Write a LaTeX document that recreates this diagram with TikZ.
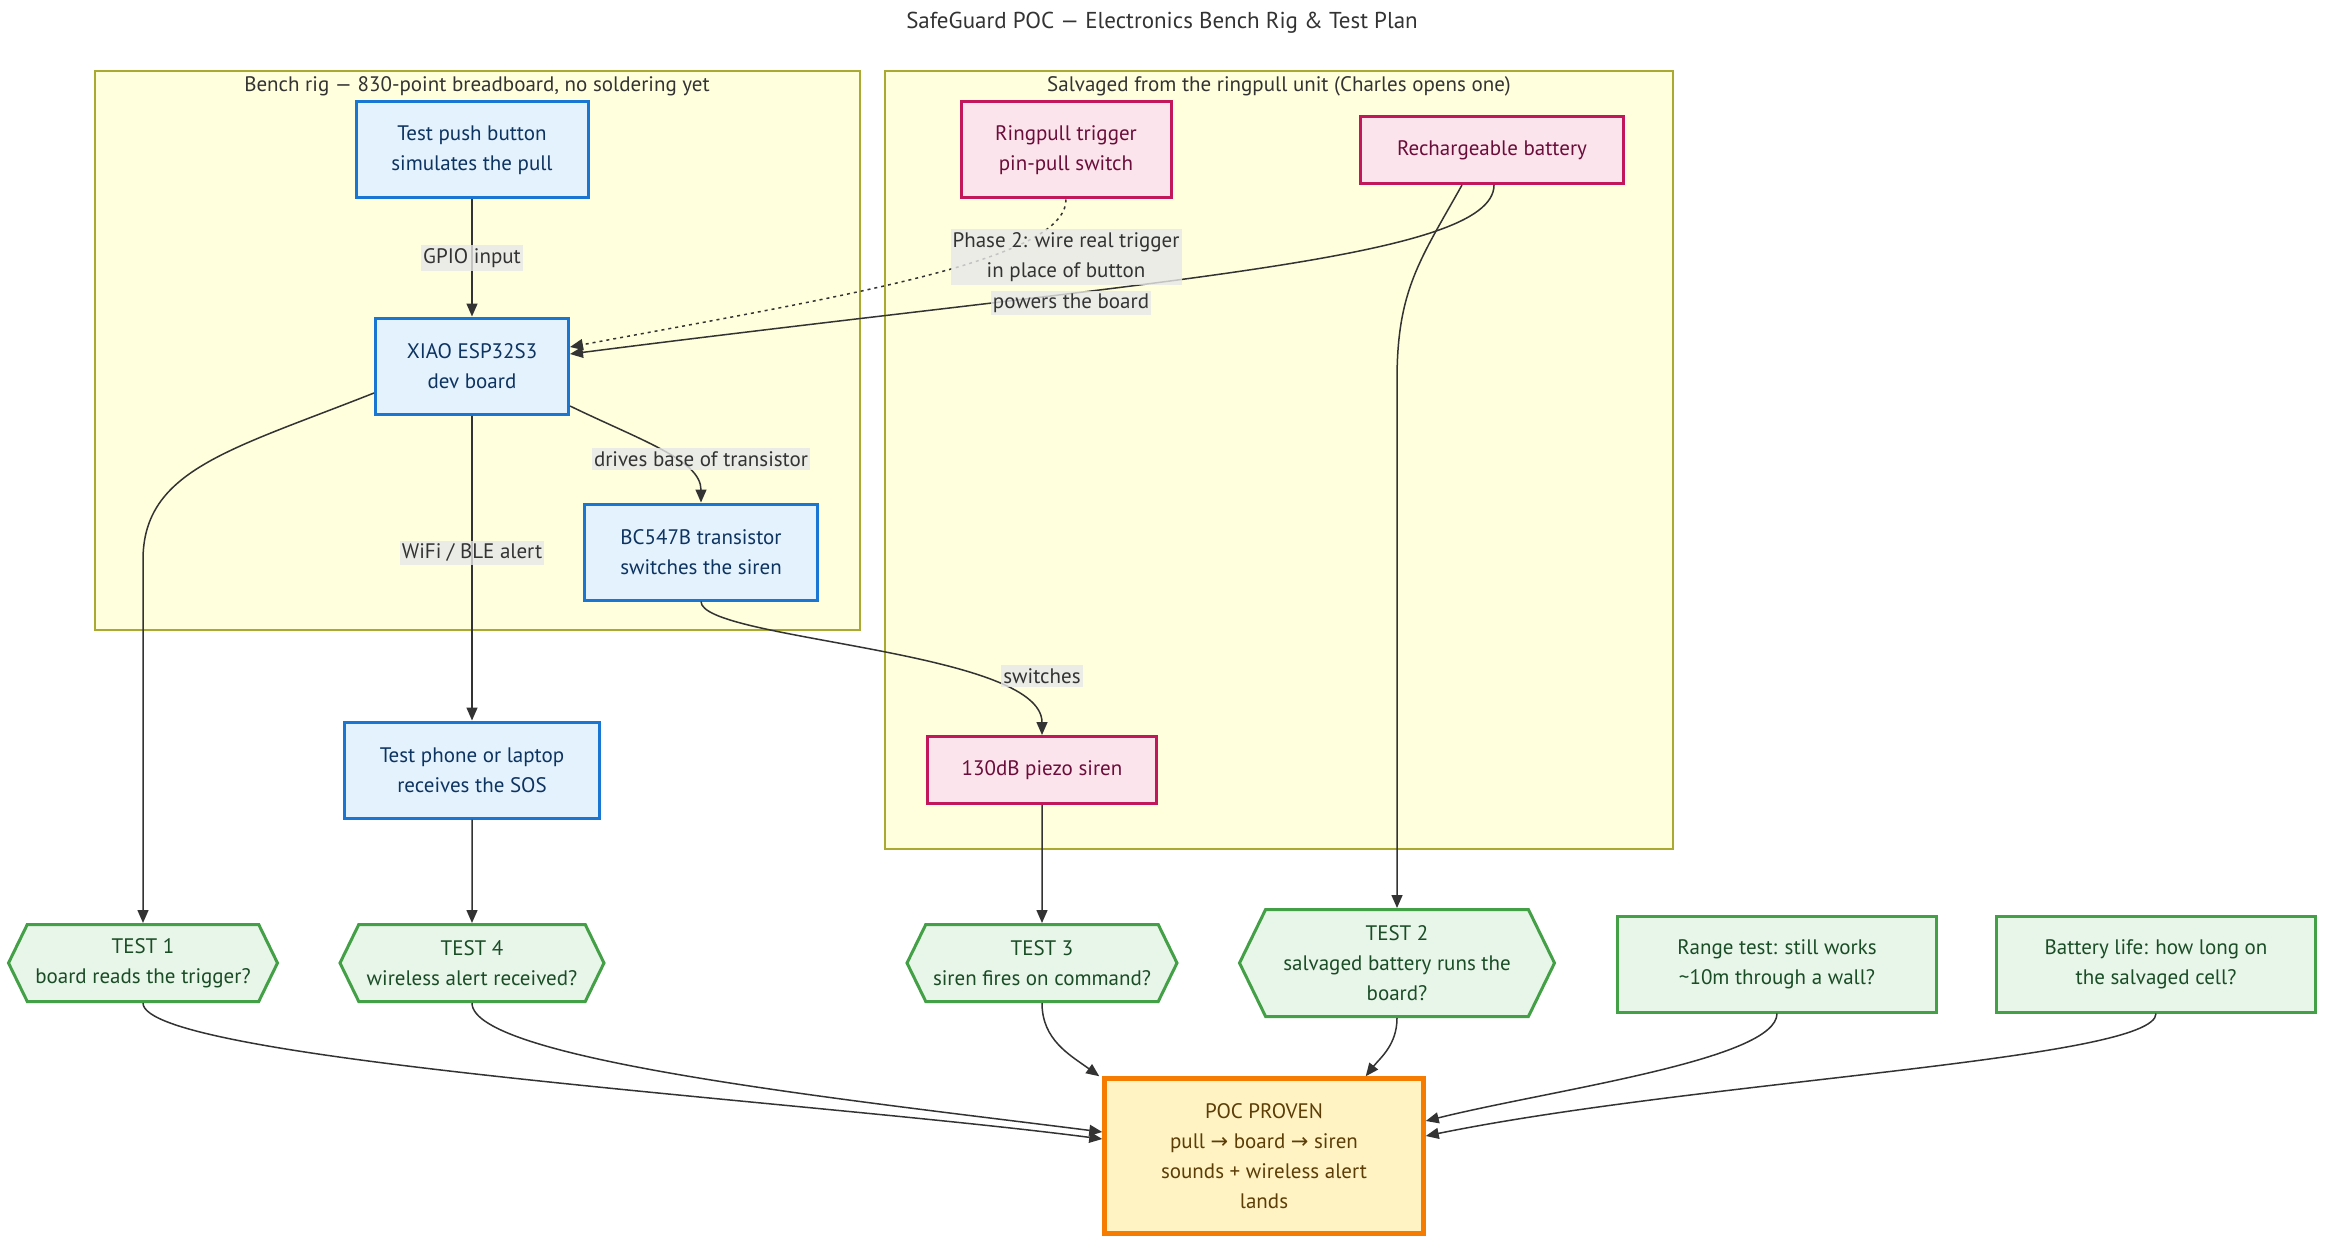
\documentclass[tikz,border=0pt]{standalone}
\usepackage{fontspec}
\setmainfont{PT Sans}
\newfontfamily\arrowfont{DejaVu Sans}
\usetikzlibrary{arrows.meta,shapes.symbols}

\definecolor{clusterfill}{HTML}{FFFFDE}
\definecolor{clusterline}{HTML}{AAAA33}
\definecolor{bluefill}{HTML}{E3F2FD}
\definecolor{blueline}{HTML}{1976D2}
\definecolor{bluetext}{HTML}{0D3361}
\definecolor{pinkfill}{HTML}{FCE4EC}
\definecolor{pinkline}{HTML}{C2185B}
\definecolor{pinktext}{HTML}{6B0D3A}
\definecolor{greenfill}{HTML}{E8F5E9}
\definecolor{greenline}{HTML}{43A047}
\definecolor{greentext}{HTML}{1A4D26}
\definecolor{goldfill}{HTML}{FFF3C4}
\definecolor{goldline}{HTML}{F57C00}
\definecolor{goldtext}{HTML}{5C3D06}
\definecolor{linkgray}{HTML}{333333}
\definecolor{lblgray}{HTML}{E8E8E8}

\tikzset{
  every node/.style={font=\fontsize{21}{30}\selectfont},
  cluster/.style={draw=clusterline, fill=clusterfill, line width=1.5pt},
  clustertitle/.style={text=linkgray},
  part/.style={line width=3pt, align=center, minimum height=96},
  bench/.style={part, draw=blueline, fill=bluefill, text=bluetext},
  salvage/.style={part, draw=pinkline, fill=pinkfill, text=pinktext},
  check/.style={part, draw=greenline, fill=greenfill, text=greentext},
  testhex/.style={check, shape=signal, signal to=east and west,
    signal pointer angle=128, minimum height=77},
  goal/.style={part, draw=goldline, fill=goldfill, text=goldtext,
    line width=4.5pt},
  link/.style={draw=linkgray, line width=1.5pt,
    -{Triangle[length=13pt,width=11pt]}},
  lbl/.style={fill=lblgray, fill opacity=0.8, text opacity=1, text=linkgray,
    inner xsep=2pt, inner ysep=3pt, align=center}
}

\begin{document}
\begin{tikzpicture}[x=1pt,y=-1pt]
\useasboundingbox (0,0) rectangle (2352,1257);

% title
\node[text=linkgray, font=\fontsize{23}{30}\selectfont] (title) at (1162,23)
  {SafeGuard POC — Electronics Bench Rig \& Test Plan};

% the two groups
\draw[cluster] (95,71) rectangle (860,630);
\node[clustertitle] (benchtitle) at (477,86)
  {Bench rig — 830-point breadboard, no soldering yet};
\draw[cluster] (885,71) rectangle (1673,849);
\node[clustertitle] (salvagetitle) at (1279,86)
  {Salvaged from the ringpull unit (Charles opens one)};

% bench rig parts
\node[bench, minimum width=232] (button) at (472,150)
  {Test push button\\simulates the pull};
\node[bench, minimum width=193] (xiao) at (472,366)
  {XIAO ESP32S3\\dev board};
\node[bench, minimum width=233] (transistor) at (701,552)
  {BC547B transistor\\switches the siren};
\node[bench, minimum width=255] (phone) at (472,770)
  {Test phone or laptop\\receives the SOS};

% salvaged parts
\node[salvage, minimum width=210] (ringpull) at (1066,150)
  {Ringpull trigger\\pin-pull switch};
\node[salvage, minimum width=263, minimum height=67] (battery) at (1492,150)
  {Rechargeable battery};
\node[salvage, minimum width=229, minimum height=67] (siren) at (1042,770)
  {130dB piezo siren};

% tests
\node[testhex, minimum width=269] (test1) at (143,963)
  {TEST 1\\board reads the trigger?};
\node[testhex, minimum width=264] (test4) at (472,963)
  {TEST 4\\wireless alert received?};
\node[testhex, minimum width=270] (test3) at (1042,963)
  {TEST 3\\siren fires on command?};
\node[testhex, minimum width=315, minimum height=107] (test2) at (1397,963)
  {TEST 2\\salvaged battery runs the\\board?};
\node[check, minimum width=319] (range) at (1777,964)
  {Range test: still works\\\textasciitilde10m through a wall?};
\node[check, minimum width=319] (life) at (2156,964)
  {Battery life: how long on\\the salvaged cell?};

\node[goal, minimum width=319, minimum height=155] (proven) at (1264,1156)
  {POC PROVEN\\pull {\arrowfont →} board {\arrowfont →} siren\\sounds + wireless alert\\lands};

% wiring
\draw[link] (button) -- node[lbl] {GPIO input} (xiao);
\draw[link, dash pattern=on 3pt off 4pt] (ringpull.south)
  .. controls (1066,260) and (850,295) .. ([yshift=19pt]xiao.east);
\draw[link] ([xshift=2pt]battery.south)
  .. controls (1494,260) and (1150,280) .. ([yshift=12pt]xiao.east);
\draw[link] ([xshift=-30pt]battery.south)
  .. controls (1420,260) and (1397,290) .. (1397,380) -- (test2.north);
\draw[link] ([yshift=-27pt]xiao.west)
  .. controls (230,450) and (143,470) .. (143,560) -- (test1.north);
\draw[link] (xiao) -- node[lbl, pos=0.45] {WiFi / BLE alert} (phone);
\draw[link] ([yshift=-40pt]xiao.east)
  .. controls (640,440) and (701,460) .. (transistor.north);
\draw[link] (transistor.south)
  .. controls (701,640) and (1042,650) .. (siren.north);
\draw[link] (phone) -- (test4);
\draw[link] (siren) -- (test3);

% into the goal
\draw[link] (test1.south)
  .. controls (143,1060) and (800,1100) .. ([yshift=17pt]proven.west);
\draw[link] (test4.south)
  .. controls (472,1060) and (850,1100) .. ([yshift=24pt]proven.west);
\draw[link] (test3.south)
  .. controls (1042,1040) and (1070,1055) .. ([xshift=-3pt]proven.north west);
\draw[link] (test2.south)
  .. controls (1397,1045) and (1380,1058) .. ([xshift=-60pt]proven.north east);
\draw[link] (range.south)
  .. controls (1777,1060) and (1550,1090) .. ([yshift=35pt]proven.east);
\draw[link] (life.south)
  .. controls (2156,1060) and (1700,1080) .. ([yshift=20pt]proven.east);

% edge labels on top
\node[lbl] (phaselbl) at (1066,257) {Phase 2: wire real trigger\\in place of button};
\node[lbl] (powerlbl) at (1071,303) {powers the board};
\node[lbl] (drivelbl) at (701,459) {drives base of transistor};
\node[lbl] (switchlbl) at (1042,676) {switches};
\end{tikzpicture}
\end{document}
